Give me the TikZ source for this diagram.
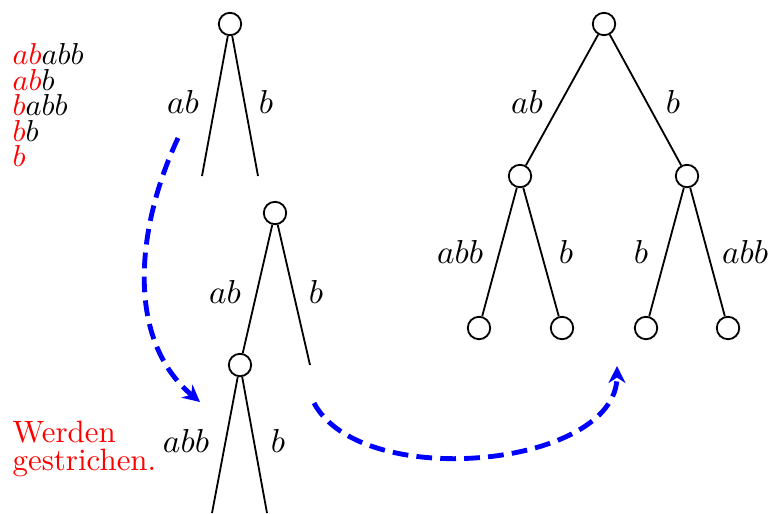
\documentclass[tikz,border=0pt]{standalone}
\usetikzlibrary{arrows.meta}
\definecolor{cutcolor}{RGB}{255,0,0}
\definecolor{movecolor}{RGB}{0,0,255}
\tikzset{
vertex/.style={
  draw,
  circle,
  line width=0.6pt,
  minimum size=7.4pt,
  inner sep=0pt
},
edge/.style={
  line width=0.6pt
},
edgelabel/.style={
  font=\fontsize{10.6}{12}\selectfont,
  inner sep=0pt
},
cuttext/.style={
  text=cutcolor,
  align=left,
  inner sep=0pt
},
movearrow/.style={
  -{Stealth[length=5.6pt,width=5.6pt,inset=1.8pt]},
  draw=movecolor,
  line width=1.6pt,
  dash pattern=on 5.2pt off 2.7pt
}
}

\begin{document}
\begin{tikzpicture}[x=0.33pt,y=-0.33pt]
  \useasboundingbox (0,0) rectangle (768,513);

  % words still to be stored
  \node[cuttext, text=black, anchor=north west, font=\fontsize{10.4}{8.4}\selectfont]
    (words) at (12,43) {%
      $\textcolor{cutcolor}{ab}abb$\\
      $\textcolor{cutcolor}{ab}b$\\
      $\textcolor{cutcolor}{b}abb$\\
      $\textcolor{cutcolor}{b}b$\\
      $\textcolor{cutcolor}{b}$};
  \node[cuttext, anchor=north west, font=\fontsize{10.2}{9.3}\selectfont]
    (cut) at (12,420) {Werden\\gestrichen.};

  % first step
  \node[vertex] (s1) at (230,24) {};
  \coordinate (s1l) at (202,176);
  \coordinate (s1r) at (258,176);
  \draw[edge] (s1) -- (s1l);
  \draw[edge] (s1) -- (s1r);
  \node[edgelabel] (s1la) at (183,102) {$ab$};
  \node[edgelabel] (s1lb) at (266,102) {$b$};

  % second step
  \node[vertex] (s2) at (275,213) {};
  \node[vertex] (s2a) at (240,365) {};
  \coordinate (s2r) at (310,365);
  \draw[edge] (s2) -- (s2a);
  \draw[edge] (s2) -- (s2r);
  \node[edgelabel] (s2la) at (225,292) {$ab$};
  \node[edgelabel] (s2lb) at (316,292) {$b$};
  \coordinate (s2al) at (212,513);
  \coordinate (s2ar) at (267,513);
  \draw[edge] (s2a) -- (s2al);
  \draw[edge] (s2a) -- (s2ar);
  \node[edgelabel] (s2lc) at (186,441) {$abb$};
  \node[edgelabel] (s2ld) at (278,441) {$b$};

  % finished tree
  \node[vertex] (t) at (604,24) {};
  \node[vertex] (ta) at (520,176) {};
  \node[vertex] (tb) at (687,176) {};
  \node[vertex] (taa) at (479,328) {};
  \node[vertex] (tab) at (562,328) {};
  \node[vertex] (tba) at (646,328) {};
  \node[vertex] (tbb) at (728,328) {};
  \draw[edge] (t) -- (ta);
  \draw[edge] (t) -- (tb);
  \draw[edge] (ta) -- (taa);
  \draw[edge] (ta) -- (tab);
  \draw[edge] (tb) -- (tba);
  \draw[edge] (tb) -- (tbb);
  \node[edgelabel] (tla) at (527,102) {$ab$};
  \node[edgelabel] (tlb) at (673,102) {$b$};
  \node[edgelabel] (tlc) at (460,252) {$abb$};
  \node[edgelabel] (tld) at (566,252) {$b$};
  \node[edgelabel] (tle) at (641,252) {$b$};
  \node[edgelabel] (tlf) at (745,252) {$abb$};

  % steps
  \coordinate (m1s) at (178,138);
  \coordinate (m1e) at (200,402);
  \coordinate (m2s) at (314,403);
  \coordinate (m2e) at (617,366);
  \draw[movearrow] (m1s) to[out=245, in=140, looseness=0.95] (m1e);
  \draw[movearrow] (m2s) to[out=-62, in=-90, looseness=0.85] (m2e);
\end{tikzpicture}
\end{document}
